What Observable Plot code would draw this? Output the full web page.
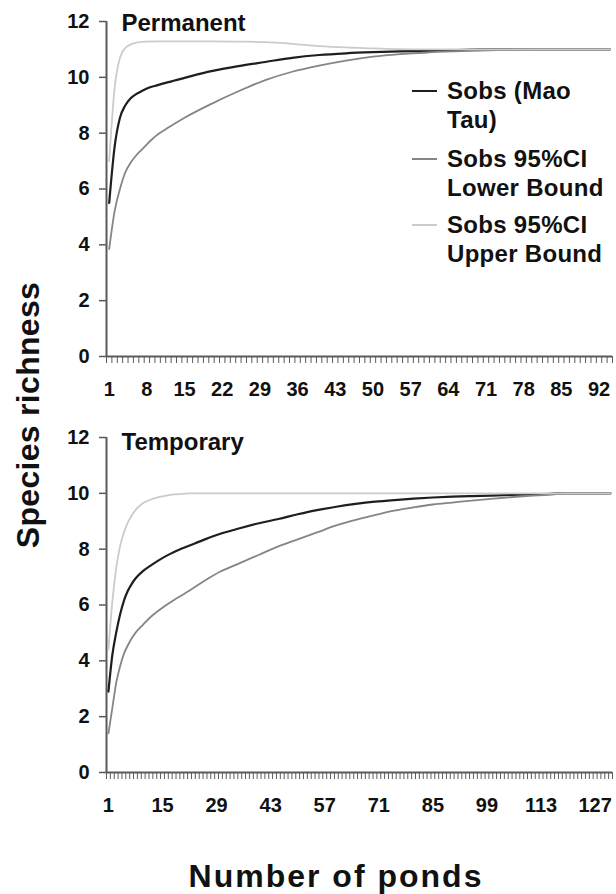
<!DOCTYPE html>
<html>
<head>
<meta charset="utf-8">
<script src="https://cdn.jsdelivr.net/npm/d3@7"></script>
<script src="https://cdn.jsdelivr.net/npm/@observablehq/plot@0.6"></script>
<style>
  html, body { margin: 0; padding: 0; background: #fff; }
  #fig { position: relative; width: 616px; height: 894px; font-family: "Liberation Sans", Arial, sans-serif; color: #111; }
  #fig svg text { font-weight: bold; }
  .abs { position: absolute; }
  .ytitle { left: 28px; top: 415px; transform: translate(-50%, -50%) rotate(-90deg); white-space: nowrap; font-size: 32px; font-weight: bold; letter-spacing: 0.3px; }
  .xtitle { left: 336px; top: 876px; transform: translate(-50%, -50%); white-space: nowrap; font-size: 32px; font-weight: bold; letter-spacing: 2px; }
  .leg { left: 447px; font-size: 24px; font-weight: bold; line-height: 29px; letter-spacing: 0.3px; }
  .sw { left: 412px; width: 25px; height: 2px; }
</style>
</head>
<body>
<div id="fig"></div>
<script>
// ---------- data ----------
const seriesNames = ["Sobs (Mao Tau)", "Sobs 95%CI Lower Bound", "Sobs 95%CI Upper Bound"];

// Permanent ponds (94 ponds)
const permN = 94;
const permK     = [1,2,3,4,5,6,7,8,10,12,15,20,25,30,35,40,45,50,55,60,65,70,75,80,85,90,94];
const permSobs  = [5.5,7.5,8.55,9.0,9.25,9.4,9.5,9.6,9.72,9.83,9.98,10.22,10.4,10.55,10.7,10.8,10.86,10.9,10.93,10.95,10.97,11,11,11,11,11,11];
const permLower = [3.85,5.2,6.0,6.6,6.95,7.2,7.4,7.6,7.95,8.2,8.55,9.05,9.5,9.9,10.2,10.42,10.6,10.74,10.83,10.89,10.93,10.96,10.98,11,11,11,11];
const permUpper = [7.0,9.6,10.7,11.05,11.18,11.24,11.27,11.28,11.29,11.29,11.29,11.29,11.28,11.26,11.2,11.12,11.07,11.04,11.01,11,11,11,11,11,11,11,11];

// Temporary ponds (131 ponds)
const tempN = 131;
const tempK     = [1,2,3,4,5,6,7,8,10,12,14,16,18,20,22,26,30,35,40,45,50,55,60,65,70,75,80,85,90,95,100,105,110,115,117,120,125,131];
const tempSobs  = [2.9,4.2,5.0,5.65,6.15,6.5,6.75,6.95,7.22,7.42,7.6,7.76,7.9,8.02,8.13,8.35,8.55,8.75,8.93,9.08,9.25,9.4,9.52,9.62,9.7,9.76,9.81,9.85,9.88,9.9,9.92,9.94,9.96,9.98,10,10,10,10];
const tempLower = [1.4,2.3,3.2,3.8,4.25,4.55,4.8,5.0,5.3,5.58,5.8,6.0,6.18,6.35,6.52,6.88,7.2,7.5,7.8,8.1,8.35,8.6,8.85,9.05,9.22,9.38,9.5,9.6,9.67,9.74,9.8,9.86,9.91,9.95,9.97,10,10,10];
const tempUpper = [4.4,6.1,7.3,8.1,8.6,8.95,9.2,9.4,9.65,9.78,9.86,9.92,9.96,9.98,10,10,10,10,10,10,10,10,10,10,10,10,10,10,10,10,10,10,10,10,10,10,10,10];

const yTicks = [0,2,4,6,8,10,12];
const permLabelStep = 7;
const tempLabelStep = 14;

const colors = ["#1e1e1e", "#858585", "#cbcbcb"];
const widths = [2.2, 1.8, 1.8];
const axisColor = "#5a5a5a";

// ---------- drawing ----------
function rows(ks, vs) { return ks.map((k, i) => ({k, v: vs[i]})); }

function panel({ks, vals, n, step, title, height, marginTop, marginBottom, titleDy}) {
  return Plot.plot({
    width: 616, height, marginLeft: 106, marginRight: 4, marginTop, marginBottom,
    x: {domain: [0.5, n + 0.5], label: null},
    y: {domain: [0, 12], label: null},
    style: {fontFamily: "'Liberation Sans', Arial, sans-serif", fontSize: "20px", color: "#111", background: "white", overflow: "visible"},
    marks: [
      Plot.axisY(yTicks, {label: null, tickSize: 7, tickPadding: 10, stroke: axisColor, strokeWidth: 1.5, fill: "#111"}),
      Plot.axisX(d3.range(0.5, n + 1, 1), {label: null, tickSize: 7, tickFormat: () => "", stroke: axisColor, strokeWidth: 1}),
      Plot.axisX(d3.range(1, n + 1, step), {label: null, tickSize: 0, tickPadding: 25, tickFormat: d => String(d), fill: "#111"}),
      Plot.ruleX([0.5], {stroke: axisColor, strokeWidth: 2}),
      Plot.ruleY([0], {stroke: axisColor, strokeWidth: 2}),
      ...vals.map((vs, i) => Plot.line(rows(ks, vs), {x: "k", y: "v", stroke: colors[i], strokeWidth: widths[i], curve: "monotone-x"})),
      Plot.text([title], {frameAnchor: "top-left", dx: 15, dy: titleDy, text: d => d, textAnchor: "start", lineAnchor: "top", fontSize: 24, fontWeight: "bold", fill: "#111"})
    ]
  });
}

const fig = document.getElementById("fig");

const topPanel = panel({ks: permK, vals: [permSobs, permLower, permUpper], n: permN, step: permLabelStep,
  title: "Permanent", height: 410, marginTop: 21, marginBottom: 54, titleDy: -8});
topPanel.style.position = "absolute"; topPanel.style.left = "0px"; topPanel.style.top = "0px";
fig.appendChild(topPanel);

const bottomPanel = panel({ks: tempK, vals: [tempSobs, tempLower, tempUpper], n: tempN, step: tempLabelStep,
  title: "Temporary", height: 420, marginTop: 27, marginBottom: 58, titleDy: -5});
bottomPanel.style.position = "absolute"; bottomPanel.style.left = "0px"; bottomPanel.style.top = "410px";
fig.appendChild(bottomPanel);

// axis titles
const yt = document.createElement("div"); yt.className = "abs ytitle"; yt.textContent = "Species richness"; fig.appendChild(yt);
const xt = document.createElement("div"); xt.className = "abs xtitle"; xt.textContent = "Number of ponds"; fig.appendChild(xt);

// legend
const legendLines = [["Sobs (Mao", "Tau)"], ["Sobs 95%CI", "Lower Bound"], ["Sobs 95%CI", "Upper Bound"]];
const legendTops = [76, 144, 210];
legendLines.forEach((lines, i) => {
  const t = document.createElement("div");
  t.className = "abs leg";
  t.style.top = legendTops[i] + "px";
  t.title = seriesNames[i];
  lines.forEach((s, j) => { if (j) t.appendChild(document.createElement("br")); t.appendChild(document.createTextNode(s)); });
  fig.appendChild(t);
  const sw = document.createElement("div");
  sw.className = "abs sw";
  sw.style.top = (legendTops[i] + 14) + "px";
  sw.style.background = colors[i];
  fig.appendChild(sw);
});
</script>
</body>
</html>
